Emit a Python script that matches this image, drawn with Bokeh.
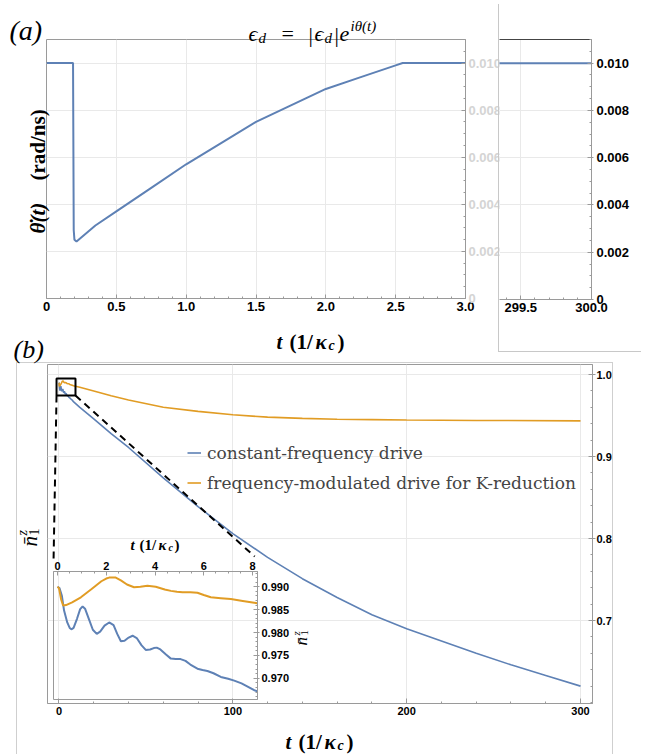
import math
from bokeh.plotting import figure
from bokeh.models import (Range1d, LinearAxis, FixedTicker, Grid, Label, Legend,
                          LegendItem, NumeralTickFormatter, BasicTickFormatter)
from bokeh.embed import file_html
from bokeh.resources import INLINE

# ---------------- data ----------------
# panel (a): instantaneous drive frequency theta_dot(t) in rad/ns
theta_t = [0.0, 0.19, 0.195, 0.20, 0.215, 0.35, 0.5, 0.75, 1.0, 1.25, 1.5, 1.75, 2.0,
           2.25, 2.5, 2.55, 3.0, 300.0]
theta_dot = [0.0100, 0.0100, 0.0029, 0.0025, 0.00242, 0.0031, 0.0037, 0.0047, 0.0057,
             0.0066, 0.0075, 0.0082, 0.0089, 0.0094, 0.0099, 0.0100, 0.0100, 0.0100]

# panel (b): n1^z for the two drives
const_t = [0, 0.08, 0.18, 0.27, 0.40, 0.50, 0.57, 0.66, 0.80, 0.93, 1.03, 1.13, 1.27,
           1.45, 1.61, 1.75, 1.93, 2.12, 2.30, 2.45, 2.60, 2.75, 2.92, 3.08, 3.25,
           3.45, 3.62, 3.80, 3.95, 4.07, 4.22, 4.45, 4.65, 4.85, 5.05, 5.25, 5.45,
           5.74, 5.95, 6.15, 6.40, 6.70, 7.00, 7.25, 7.55, 7.80, 8.07, 8.3,
           12, 20, 30, 40, 60, 80, 100, 120, 140, 160, 180, 200, 220, 240, 260, 280, 300]
const_n = [0.9900, 0.9897, 0.9880, 0.9848, 0.9822, 0.9810, 0.9807, 0.9810, 0.9830,
           0.9851, 0.9857, 0.9852, 0.9832, 0.9806, 0.9797, 0.9802, 0.9815, 0.9822,
           0.9816, 0.9797, 0.9781, 0.9782, 0.9789, 0.9793, 0.9788, 0.9772, 0.9762,
           0.9763, 0.9766, 0.9767, 0.9763, 0.9752, 0.9743, 0.9742, 0.9742, 0.9738,
           0.9730, 0.9721, 0.9718, 0.9716, 0.9711, 0.9703, 0.9699, 0.9695, 0.9689,
           0.9682, 0.9674, 0.9670,
           0.9600, 0.9460, 0.9280, 0.9110, 0.8740, 0.8390, 0.8060, 0.7770, 0.7510,
           0.7280, 0.7070, 0.6900, 0.6750, 0.6600, 0.6460, 0.6330, 0.6200]

fm_t = [0, 0.06, 0.15, 0.23, 0.35, 0.6, 0.96, 1.4, 1.8, 2.0, 2.12, 2.39, 2.6, 2.85,
        3.14, 3.4, 3.69, 4.03, 4.4, 4.65, 4.9, 5.13, 5.45, 5.74, 6.0, 6.29, 6.7,
        7.11, 7.6, 8.07, 8.3,
        12, 20, 30, 40, 60, 80, 100, 120, 140, 160, 180, 200, 240, 300]
fm_n = [0.9900, 0.9897, 0.9872, 0.9859, 0.9860, 0.9866, 0.9877, 0.9895, 0.9912,
        0.9918, 0.9920, 0.9920, 0.9914, 0.9905, 0.9899, 0.9900, 0.9902, 0.9900,
        0.9894, 0.9891, 0.9889, 0.9888, 0.9888, 0.9887, 0.9882, 0.9877, 0.9875,
        0.9873, 0.9869, 0.9865, 0.9863,
        0.9845, 0.9800, 0.9740, 0.9690, 0.9600, 0.9550, 0.9510, 0.9480, 0.9465,
        0.9455, 0.9450, 0.9445, 0.9440, 0.9435]

series_labels = ["constant-frequency drive", "frequency-modulated drive for K-reduction"]

# zoom marker (region of panel (b) shown in the inset) and connector ends
zoom_box_t = (-1.4, 9.5)
zoom_box_n = (0.9744, 0.9951)
connector_end_t = (-3.15, 112.6)
connector_end_n = (0.7695, 0.778)

# tick positions
a_xticks = [0, 0.5, 1.0, 1.5, 2.0, 2.5, 3.0]
a_yticks = [0, 0.002, 0.004, 0.006, 0.008, 0.010]
a2_xticks = [299.5, 300.0]
b_xticks = [0, 100, 200, 300]
b_yticks = [0.7, 0.8, 0.9, 1.0]
c_xticks = [0, 2, 4, 6, 8]
c_yticks = [0.970, 0.975, 0.980, 0.985, 0.990]

# ---------------- styles ----------------
BLUE = "#5e81b5"
ORANGE = "#e19c24"
AX = "#9a9a9a"
GRID = "#e9e9e9"
TICKF = "Liberation Sans"
SERIF = "Liberation Serif"
W, H = 655, 754


def pos(left, top, extra=None):
    s = {"position": "absolute", "left": f"{left}px", "top": f"{top}px"}
    if extra:
        s.update(extra)
    return s


def clear_grids(fig):
    fig.center = [r for r in fig.center if not isinstance(r, Grid)]


def axis(ticks, minor, fmt, size, color="black", tin=4, tout=0, minin=2,
         standoff=3, line_color=AX, overrides=None):
    ax = LinearAxis(ticker=FixedTicker(ticks=ticks, minor_ticks=minor),
                    formatter=fmt,
                    axis_line_color=line_color,
                    major_tick_line_color=AX, minor_tick_line_color=AX,
                    major_tick_in=tin, major_tick_out=tout,
                    minor_tick_in=minin, minor_tick_out=0,
                    major_label_text_font=TICKF,
                    major_label_text_font_style="bold",
                    major_label_text_font_size=f"{size}px",
                    major_label_text_color=color,
                    major_label_standoff=standoff)
    if overrides:
        ax.major_label_overrides = overrides
    return ax


def grid(fig, dim, ticks):
    fig.add_layout(Grid(dimension=dim, ticker=FixedTicker(ticks=ticks),
                        grid_line_color=GRID, grid_line_width=1))


def minor_range(a, b, step, skip):
    out = []
    n = int(round((b - a) / step))
    for k in range(n + 1):
        v = round(a + k * step, 6)
        if all(abs(v - s) > step / 10 for s in skip):
            out.append(v)
    return out


UP = math.pi / 2

# ---------------- panel (a), left part ----------------
a1 = figure(width=520, height=362, x_range=Range1d(0, 3.0), y_range=Range1d(0, 0.011),
            x_axis_location=None, y_axis_location=None,
            min_border_left=46, min_border_right=55, min_border_top=39, min_border_bottom=64,
            outline_line_color=AX, output_backend="svg", toolbar_location=None,
            styles=pos(0, 0))
clear_grids(a1)
grid(a1, 0, a_xticks)
grid(a1, 1, a_yticks[1:])
a1.add_layout(axis(a_xticks, minor_range(0, 3.0, 0.1, a_xticks),
                   NumeralTickFormatter(format="0.0"), 13, overrides={0: "0"}), "below")
a1.add_layout(axis(a_yticks, minor_range(0, 0.011, 0.0005, a_yticks),
                   NumeralTickFormatter(format="0.000"), 13, color="#d4d4d4",
                   overrides={0: "0"}), "right")
a1.line(theta_t, theta_dot, line_color=BLUE, line_width=2)

# ---------------- panel (a), right part (t near 300) ----------------
a2 = figure(width=143, height=348, x_range=Range1d(299.35, 300.0), y_range=Range1d(0, 0.011),
            x_axis_location=None, y_axis_location=None,
            min_border_left=0, min_border_right=51, min_border_top=35, min_border_bottom=53,
            outline_line_color=None, output_backend="svg", toolbar_location=None,
            styles=pos(498, 4, {"border-left": "1px solid #c8c8c8",
                                "border-bottom": "1px solid #c8c8c8"}))
clear_grids(a2)
grid(a2, 0, [299.5])
grid(a2, 1, a_yticks[1:])
a2.add_layout(axis(a2_xticks, [299.4, 299.6, 299.7, 299.8, 299.9],
                   NumeralTickFormatter(format="0.0"), 13), "below")
a2.add_layout(axis(a_yticks, minor_range(0, 0.011, 0.0005, a_yticks),
                   NumeralTickFormatter(format="0.000"), 13, tout=2,
                   overrides={0: "0"}), "right")
a2.add_layout(axis([], [], BasicTickFormatter(), 13, tin=0, minin=0,
                   line_color="#444444", standoff=0), "above")
a2.line(theta_t, theta_dot, line_color=BLUE, line_width=2)

# ---------------- panel (b) ----------------
b = figure(width=597, height=392, x_range=Range1d(-6.6, 306.9), y_range=Range1d(0.5988, 1.0122),
           x_axis_location=None, y_axis_location=None,
           min_border_left=30, min_border_right=20, min_border_top=1, min_border_bottom=52,
           outline_line_color=AX, output_backend="svg", toolbar_location=None,
           styles=pos(16, 362, {"border-left": "1px solid #cfcfcf",
                                "border-top": "1px solid #cfcfcf",
                                "border-right": "1px solid #cfcfcf"}))
clear_grids(b)
grid(b, 0, b_xticks)
grid(b, 1, b_yticks)
b.add_layout(axis(b_xticks, minor_range(0, 300, 20, b_xticks), BasicTickFormatter(), 11,
                  tin=5, standoff=3), "below")
b.add_layout(axis(b_yticks, minor_range(0.6, 1.0, 0.02, b_yticks),
                  NumeralTickFormatter(format="0.0"), 11, tin=4, tout=3, standoff=1), "right")
r_const = b.line(const_t, const_n, line_color=BLUE, line_width=1.6)
r_fm = b.line(fm_t, fm_n, line_color=ORANGE, line_width=1.6)
b.quad(left=[zoom_box_t[0]], right=[zoom_box_t[1]], bottom=[zoom_box_n[0]], top=[zoom_box_n[1]],
       fill_color=None, line_color="black", line_width=2)
b.segment(x0=[zoom_box_t[0], zoom_box_t[1]], y0=[zoom_box_n[0], zoom_box_n[0]],
          x1=list(connector_end_t), y1=list(connector_end_n),
          line_color="black", line_width=2, line_dash="7 5")
legend = Legend(items=[LegendItem(label=series_labels[0], renderers=[r_const]),
                       LegendItem(label=series_labels[1], renderers=[r_fm])],
                location=(140, 210), orientation="vertical",
                label_text_font="DejaVu Serif", label_text_font_size="17px",
                glyph_width=14, glyph_height=21, label_height=21, spacing=9,
                padding=0, margin=0, label_standoff=6,
                border_line_color=None, background_fill_alpha=0)
b.add_layout(legend, "center")

# ---------------- inset ----------------
c = figure(width=270, height=175, x_range=Range1d(-0.164, 8.205), y_range=Range1d(0.96537, 0.99333),
           x_axis_location=None, y_axis_location=None,
           min_border_left=13, min_border_right=53, min_border_top=41, min_border_bottom=6,
           outline_line_color=AX, background_fill_color=None, border_fill_color=None,
           output_backend="svg", toolbar_location=None, styles=pos(40, 530))
clear_grids(c)
c.add_layout(axis(c_xticks, minor_range(0, 8, 0.5, c_xticks), BasicTickFormatter(), 11,
                  tin=4, standoff=2), "above")
c.add_layout(axis(c_yticks, minor_range(0.966, 0.993, 0.001, c_yticks),
                  NumeralTickFormatter(format="0.000"), 11, tin=4, tout=2, standoff=2), "right")
c.line(const_t, const_n, line_color=BLUE, line_width=2)
c.line(fm_t, fm_n, line_color=ORANGE, line_width=2)

# ---------------- text layer (page pixel coordinates) ----------------
ov = figure(width=W, height=H, x_range=Range1d(0, W), y_range=Range1d(0, H),
            x_axis_location=None, y_axis_location=None, title=None,
            min_border=0, min_border_left=0, min_border_right=0, min_border_top=0,
            min_border_bottom=0, outline_line_color=None,
            background_fill_color=None, border_fill_color=None,
            output_backend="svg", toolbar_location=None, styles=pos(0, 0))
clear_grids(ov)


def t(text, px, py, size, style="normal", angle=0.0, font=SERIF):
    ov.add_layout(Label(x=px, y=H - py, x_units="screen", y_units="screen", text=text,
                        text_font=font, text_font_size=f"{size}px",
                        text_font_style=style, angle=angle, text_align="left",
                        text_baseline="alphabetic", text_color="black"))


# panel tags
t("(a)", 9, 30, 28, "italic")
t("(b)", 13, 349, 26, "italic")
# title  eps_d = |eps_d| e^{i theta(t)}
t("ϵ", 248, 33, 22, "italic")
t("d", 258, 37, 15, "italic")
t("=", 281, 33, 22)
t("|", 308, 34, 22)
t("ϵ", 314, 33, 22, "italic")
t("d", 324, 37, 15, "italic")
t("|", 334, 34, 22)
t("e", 339, 33, 22, "italic")
t("iθ(t)", 350, 25, 15, "italic")
# panel (a) axis titles
t("t", 276, 341, 21, "bold italic")
t("(1/", 289, 341, 21, "bold")
t("κ", 315, 341, 21, "bold italic")
t("c", 328, 345, 14, "bold italic")
t(")", 337, 341, 21, "bold")
t("θ\u0307(t)", 37, 233, 21, "bold italic", angle=UP)
t("(rad/ns)", 37, 180, 21, "bold", angle=UP)
# panel (b) axis titles
t("t", 285, 741, 21, "bold italic")
t("(1/", 298, 741, 21, "bold")
t("κ", 324, 741, 21, "bold italic")
t("c", 337, 745, 14, "bold italic")
t(")", 346, 741, 21, "bold")
t("n\u0304", 29, 546, 21, "italic", angle=UP)
t("1", 33, 535, 14, "normal", angle=UP)
t("z", 22, 535, 14, "italic", angle=UP)
# inset axis titles
t("t", 130, 544, 15, "bold italic")
t("(1/", 139, 544, 15, "bold")
t("κ", 158, 544, 15, "bold italic")
t("c", 168, 547, 10, "bold italic")
t(")", 174, 544, 15, "bold")
t("n\u0304", 301, 645, 17, "italic", angle=UP)
t("1", 304, 635, 11, "normal", angle=UP)
t("z", 295, 635, 11, "italic", angle=UP)

open("out.html", "w").write(file_html([a1, a2, b, c, ov], INLINE))
